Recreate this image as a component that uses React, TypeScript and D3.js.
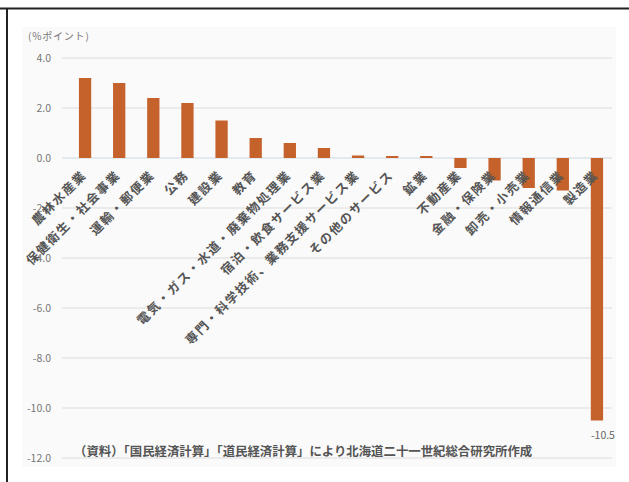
import React from "react";
import * as d3 from "d3";

const categories = [
  "農林水産業",
  "保健衛生・社会事業",
  "運輸・郵便業",
  "公務",
  "建設業",
  "教育",
  "電気・ガス・水道・廃棄物処理業",
  "宿泊・飲食サービス業",
  "専門・科学技術、業務支援サービス業",
  "その他のサービス",
  "鉱業",
  "不動産業",
  "金融・保険業",
  "卸売・小売業",
  "情報通信業",
  "製造業",
];
const values = [3.2, 3.0, 2.4, 2.2, 1.5, 0.8, 0.6, 0.4, 0.1, 0.08, 0.08, -0.4, -0.9, -1.2, -1.3, -10.5];
const yTicks = [4, 2, 0, -2, -4, -6, -8, -10, -12];
const unitLabel = "(%ポイント)";
const sourceText = "（資料）「国民経済計算」「道民経済計算」により北海道二十一世紀総合研究所作成";
const calloutIndex = 15;

const W = 629;
const H = 482;
const FONT = "'Noto Sans CJK JP', 'Noto Sans', sans-serif";

export default function App() {
  const x = d3.scaleBand<string>().domain(categories).range([68, 614]).paddingInner(0.64).paddingOuter(0.32);
  const y = d3.scaleLinear().domain([-12, 4]).range([458, 58]);
  const bw = x.bandwidth();
  const labelY = 173;

  return (
    <svg width={W} height={H} style={{ position: "absolute", left: 0, top: 0, background: "#fff" }}>
      {/* frame */}
      <line x1={0} x2={W} y1={8.5} y2={8.5} stroke="#222" strokeWidth={2} />
      <line x1={7} x2={7} y1={8} y2={H} stroke="#222" strokeWidth={2} />
      {/* panel */}
      <rect x={22} y={27} width={594} height={440} fill="#fafafa" />
      <text x={28} y={40} fontFamily={FONT} fontSize={10} letterSpacing={0.8} fill="#777">{unitLabel}</text>
      {/* grid */}
      {yTicks.map((t) => (
        <g key={t}>
          <line x1={62} x2={612} y1={y(t)} y2={y(t)} stroke={t === 0 ? "#dde3ea" : "#e6e6e6"} strokeWidth={1.5} />
          <text x={51} y={y(t)} dy="0.35em" textAnchor="end" fontFamily={FONT} fontSize={10.5} fill="#777">
            {t.toFixed(1)}
          </text>
        </g>
      ))}
      {/* bars */}
      {categories.map((c, i) => {
        const v = values[i];
        const y0 = y(Math.max(0, v));
        const y1 = y(Math.min(0, v));
        return <rect key={c} x={x(c)!} y={y0} width={bw} height={Math.max(1, y1 - y0)} fill="#c5612b" />;
      })}
      {/* category labels */}
      {categories.map((c) => {
        const cx = x(c)! + bw / 2 - 1;
        return (
          <text
            key={c}
            transform={`translate(${cx},${labelY}) rotate(-45)`}
            textAnchor="end"
            dy="0.35em"
            fontFamily={FONT}
            fontSize={12.5}
            fontWeight={700}
            letterSpacing={1.6}
            fill="#555"
          >
            {c}
          </text>
        );
      })}
      {/* callout */}
      <text
        x={x(categories[calloutIndex])! + bw / 2 + 6}
        y={y(values[calloutIndex]) + 18}
        textAnchor="middle"
        fontFamily={FONT}
        fontSize={10.5}
        fill="#666"
      >
        {values[calloutIndex].toFixed(1)}
      </text>
      {/* source */}
      <text x={74} y={452} dy="0.35em" fontFamily={FONT} fontSize={12.4} fontWeight={700} fill="#555">
        {sourceText}
      </text>
    </svg>
  );
}
